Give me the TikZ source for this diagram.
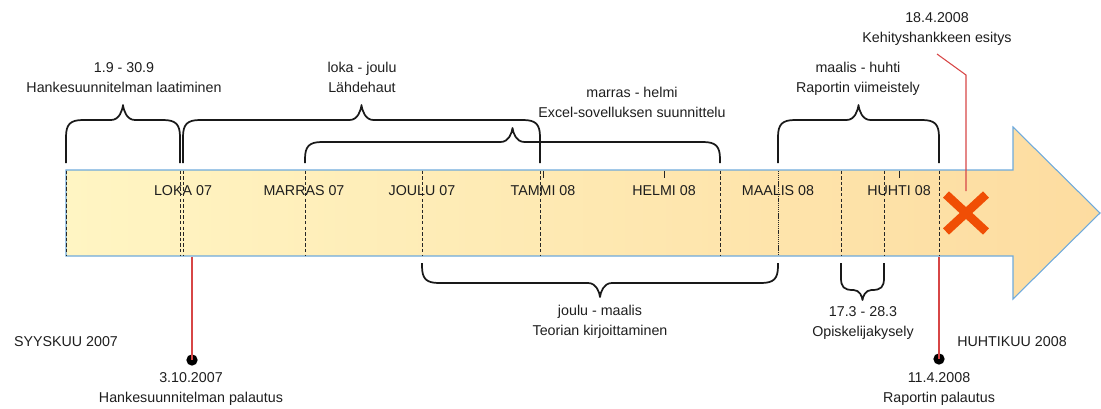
\documentclass[tikz,border=0pt]{standalone}
\usepackage{fontspec}
\setmainfont{Liberation Sans}
\definecolor{txt}{RGB}{30,30,30}
\definecolor{redl}{RGB}{215,70,70}
\definecolor{blueb}{RGB}{110,170,220}
\definecolor{fillL}{RGB}{255,245,195}
\definecolor{fillR}{RGB}{253,220,160}
\definecolor{xmark}{RGB}{240,78,5}
\definecolor{brc}{RGB}{25,25,25}
% #1 xL, #2 xR, #3 yend, #4 yh, #5 yt, #6 r, #7 s
\newcommand{\mybrace}[7]{%
  \pgfmathsetmacro{\bxm}{(#1+#2)/2}%
  \pgfmathsetmacro{\bsg}{sign(#3-#4)}%
  \pgfmathsetmacro{\bya}{#4+\bsg*#6}%
  \pgfmathsetmacro{\byb}{#4+\bsg*#6*0.25}%
  \pgfmathsetmacro{\bxa}{#1+#6*0.25}%
  \pgfmathsetmacro{\bxb}{#1+#6}%
  \pgfmathsetmacro{\bxc}{\bxm-#7}%
  \pgfmathsetmacro{\bxd}{\bxm-#7*0.3}%
  \pgfmathsetmacro{\bxe}{\bxm-#7*0.05}%
  \pgfmathsetmacro{\byc}{#5+(#4-#5)*0.35}%
  \pgfmathsetmacro{\bxf}{\bxm+#7*0.05}%
  \pgfmathsetmacro{\bxg}{\bxm+#7*0.3}%
  \pgfmathsetmacro{\bxh}{\bxm+#7}%
  \pgfmathsetmacro{\bxi}{#2-#6}%
  \pgfmathsetmacro{\bxj}{#2-#6*0.25}%
  \draw[bracestyle] (#1,#3) -- (#1,\bya) .. controls (#1,\byb) and (\bxa,#4) .. (\bxb,#4)
    -- (\bxc,#4) .. controls (\bxd,#4) and (\bxe,\byc) .. (\bxm,#5)
    .. controls (\bxf,\byc) and (\bxg,#4) .. (\bxh,#4)
    -- (\bxi,#4) .. controls (\bxj,#4) and (#2,\byb) .. (#2,\bya) -- (#2,#3);
}
\begin{document}
\begin{tikzpicture}[x=0.75pt,y=-0.75pt,
  lbl/.style={font=\fontsize{10.7}{15}\selectfont, text=txt, align=center, inner sep=0pt},
  dashln/.style={black!85, line width=0.7pt, dash pattern=on 2.6pt off 1.6pt},
  dotln/.style={black!85, line width=0.7pt, dash pattern=on 1pt off 0.6pt},
  tickln/.style={black!85, line width=0.7pt},
  bracestyle/.style={brc, line width=1.3pt, line join=round},
  redline/.style={redl, line width=0.8pt},
  dot/.style={circle, fill=black, inner sep=0pt, minimum size=8.5pt}]
\useasboundingbox (0,0) rectangle (1101,408);
% timeline arrow
\path[draw=blueb, line width=0.8pt, left color=fillL, right color=fillR]
  (66,170) -- (1013,170) -- (1013,127) -- (1100,213) -- (1013,299) -- (1013,256) -- (66,256) -- cycle;
\foreach \x in {66,180,183,305,422,540,720,841,884,939}
  \draw[dashln] (\x,170.5) -- (\x,255.5);
\draw[dotln] (778,170.5) -- (778,255.5);
\foreach \x in {543,664,899}
  \draw[tickln] (\x,170.5) -- (\x,178);
% month labels
\node[lbl] (loka) at (183,191) {LOKA 07};
\node[lbl] (marras) at (304,191) {MARRAS 07};
\node[lbl] (joulu) at (422,191) {JOULU 07};
\node[lbl] (tammi) at (543,191) {TAMMI 08};
\node[lbl] (helmi) at (664,191) {HELMI 08};
\node[lbl] (maalis) at (778,191) {MAALIS 08};
\node[lbl] (huhti) at (899,191) {HUHTI 08};
% braces above
\mybrace{66}{180}{163}{120}{105}{17}{12}
\mybrace{183}{540}{163}{120}{105}{17}{12}
\mybrace{305}{720}{163}{142}{128}{17}{12}
\mybrace{778}{939}{163}{120}{105}{17}{12}
% braces below
\mybrace{422}{778}{263}{283}{297}{17}{12}
\mybrace{841}{884}{263}{290}{300}{12}{9}
% labels of the braces
\node[lbl] (hanke) at (124,77.5) {1.9 - 30.9\\Hankesuunnitelman laatiminen};
\node[lbl] (lahde) at (362,77.5) {loka - joulu\\Lähdehaut};
\node[lbl] (excel) at (632,102) {marras - helmi\\Excel-sovelluksen suunnittelu};
\node[lbl] (rapv) at (858,79) {maalis - huhti\\Raportin viimeistely};
\node[lbl] (teoria) at (600,322) {joulu - maalis\\Teorian kirjoittaminen};
\node[lbl] (opisk) at (863,323) {17.3 - 28.3\\Opiskelijakysely};
% ends
\node[lbl] (syys) at (66,342) {SYYSKUU 2007};
\node[lbl] (huhtikuu) at (1012,342) {HUHTIKUU 2008};
% milestones
\coordinate (m1) at (192,256.5);
\node[dot] (d1) at (192,360) {};
\draw[redline] (m1) -- (d1.center);
\node[lbl] (hpal) at (191,389) {3.10.2007\\Hankesuunnitelman palautus};
\coordinate (m2) at (939,256.5);
\node[dot] (d2) at (939,359) {};
\draw[redline] (m2) -- (d2.center);
\node[lbl] (rpal) at (939,389) {11.4.2008\\Raportin palautus};
\node[lbl] (kehi) at (937,29) {18.4.2008\\Kehityshankkeen esitys};
\coordinate (k1) at (937,54);
\coordinate (k2) at (966,75);
\coordinate (k3) at (966,191);
\draw[redline] (k1) -- (k2) -- (k3);
% cross
\coordinate (xc) at (966,213);
\draw[xmark, line width=6.5pt] ([shift={(-20,-18.5)}]xc) -- ([shift={(20,18.5)}]xc);
\draw[xmark, line width=6.5pt] ([shift={(-20,18.5)}]xc) -- ([shift={(20,-18.5)}]xc);
\end{tikzpicture}
\end{document}
